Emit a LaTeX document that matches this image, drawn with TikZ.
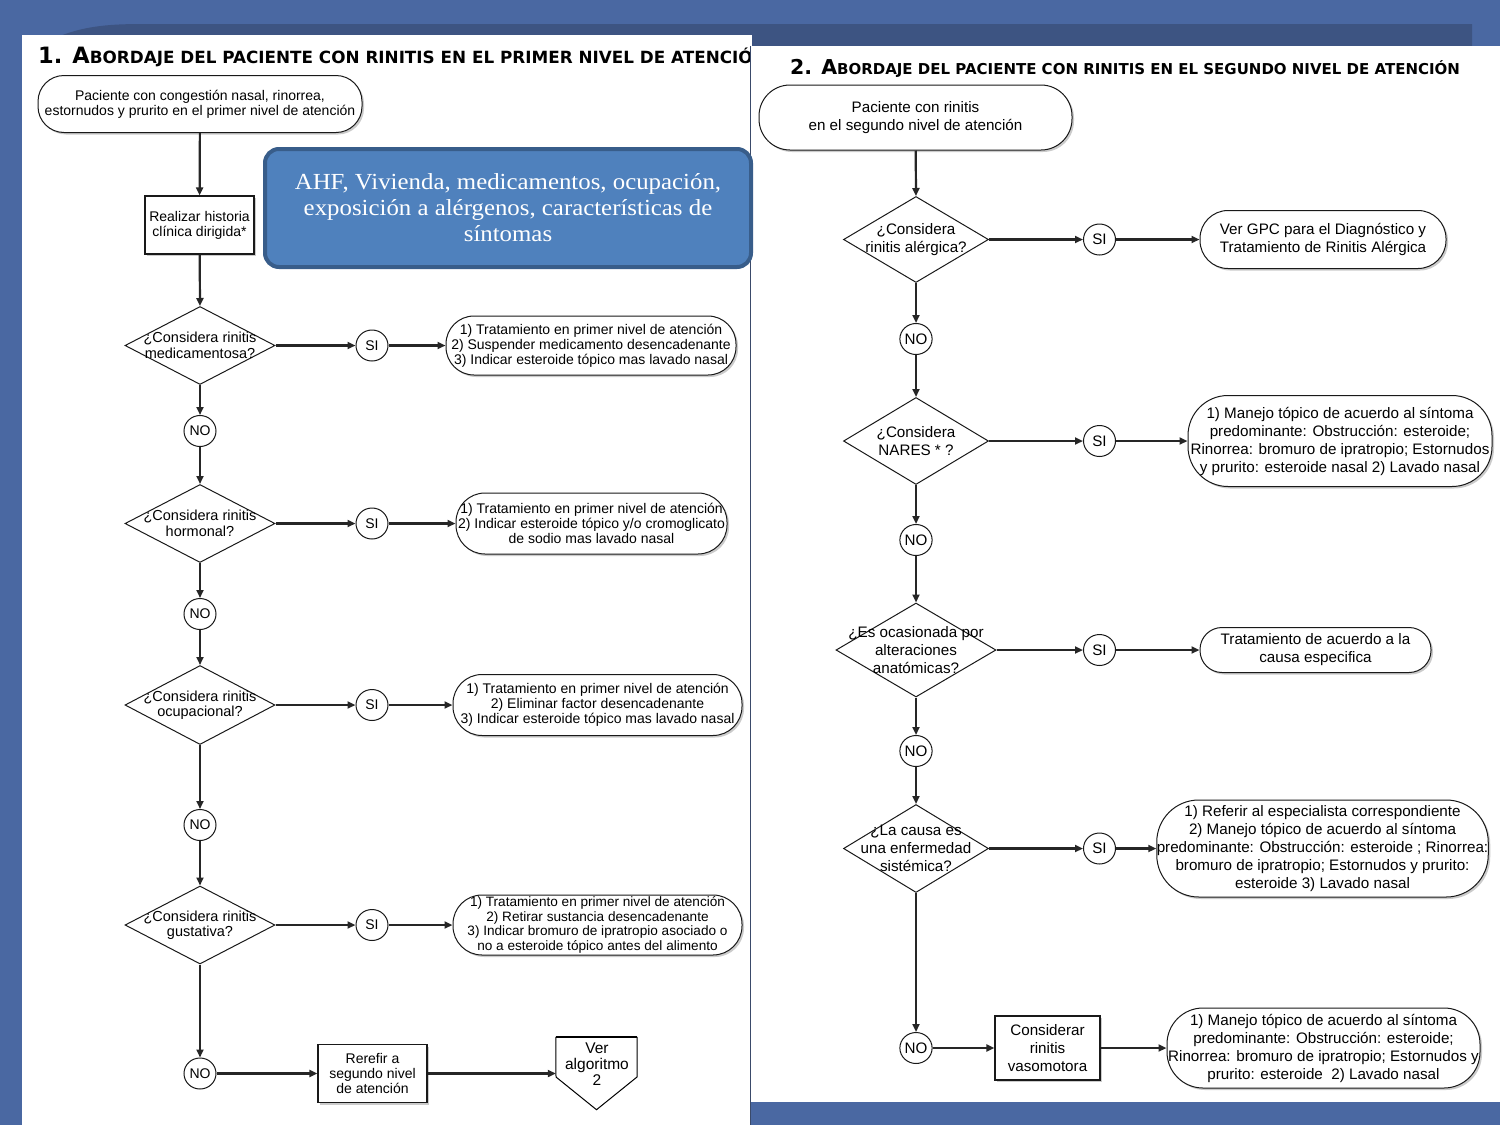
\documentclass[tikz,border=0pt]{standalone}
\usepackage{fontspec}
\setmainfont{Liberation Sans}
\newfontfamily\serf[FakeStretch=1.08]{Liberation Serif}
\newfontfamily\ttlfont{DejaVu Sans}
\usetikzlibrary{shapes.geometric,arrows.meta,shadows}
\definecolor{bgblue}{HTML}{4A68A2}
\definecolor{bandblue}{HTML}{3D5482}
\definecolor{callfill}{HTML}{4F81BD}
\definecolor{calldraw}{HTML}{385D8A}
\definecolor{edgeline}{HTML}{3A4A6A}
\tikzset{
  conn/.style={line width=2.2pt, draw=black!85, -{Triangle[length=8pt,width=7pt]}},
  shad/.style={drop shadow={shadow xshift=2pt,shadow yshift=-2pt,fill=black!45,opacity=0.45}},
  term/.style={draw=black!90, line width=1pt, fill=white, rectangle, rounded corners=#1, inner sep=0pt, align=center, shad},
  procbox/.style={draw=black!90, line width=1.1pt, fill=white, rectangle, inner sep=0pt, align=center, shad},
  dia/.style={draw=black!90, line width=1pt, fill=white, diamond, inner sep=0pt},
  yn/.style={draw=black!90, line width=1pt, fill=white, ellipse, inner sep=0pt, minimum width=32, minimum height=31},
  ltext/.style={font=\fontsize{14}{15}\selectfont},
  ldtext/.style={font=\fontsize{14.5}{15.5}\selectfont},
  rtext/.style={font=\fontsize{15.2}{18}\selectfont},
  dtext/.style={align=center, inner sep=0pt},
}
\newcommand\lttl[4]{{\fontsize{#1}{#1}\selectfont #3}{\fontsize{#2}{#2}\selectfont #4}}
\begin{document}
\begin{tikzpicture}[x=1pt,y=-1pt]
\useasboundingbox (0,0) rectangle (1500,1125);
% background
\fill[bgblue] (0,0) rectangle (1500,1125);
\fill[bandblue] (60,36) .. controls (90,24) and (120,24) .. (150,24) -- (1472,24) -- (1472,46) -- (60,46) -- cycle;
% left panel
\fill[white] (22,35) rectangle (752,1125);
\begin{scope}
\clip (22,35) rectangle (750,1125);
\node[anchor=base west, inner sep=0, font=\ttlfont\bfseries] (t1) at (38,63) {\lttl{22.5}{16.8}{1.\hspace{10pt}A}{BORDAJE DEL PACIENTE CON RINITIS EN EL PRIMER NIVEL DE ATENCIÓN}};
\end{scope}
% right panel
\fill[white] (750,46) rectangle (1500,1102);
\draw[edgeline, line width=1pt] (750.5,46) -- (750.5,1125);
\node[anchor=base west, inner sep=0, font=\ttlfont\bfseries] (t2) at (790,74) {\lttl{20.5}{15}{2.\hspace{9pt}A}{BORDAJE DEL PACIENTE CON RINITIS EN EL SEGUNDO NIVEL DE ATENCIÓN}};

% ---------------- left chart ----------------
\node[term=26, ltext, minimum width=324, minimum height=57] (s1) at (200,104) {Paciente con congestión nasal, rinorrea,\\estornudos y prurito en el primer nivel de atención};
\node[procbox, ltext, minimum width=109, minimum height=58] (h1) at (199.5,225) {Realizar historia\\clínica dirigida*};
\node[draw=calldraw, line width=4pt, fill=callfill, rounded corners=14, minimum width=486, minimum height=118, inner sep=0, align=center, text=white, font=\serf\fontsize{23}{26}\selectfont] (ahf) at (508,208) {AHF, Vivienda, medicamentos, ocupación,\\exposición a alérgenos, características de\\síntomas};

\node[dia, minimum width=150, minimum height=78, label={[dtext,ldtext]center:¿Considera rinitis\\medicamentosa?}] (d1) at (200,345.5) {};
\node[yn, ltext] (si1) at (372,345.5) {SI};
\node[term=28, ltext, minimum width=290, minimum height=59] (r1) at (591,345.5) {1) Tratamiento en primer nivel de atención\\2) Suspender medicamento desencadenante\\3) Indicar esteroide tópico mas lavado nasal};
\node[yn, ltext] (n1) at (200,431) {NO};

\node[dia, minimum width=150, minimum height=78, label={[dtext,ldtext]center:¿Considera rinitis\\hormonal?}] (d2) at (200,523.5) {};
\node[yn, ltext] (si2) at (372,523.5) {SI};
\node[term=29, ltext, minimum width=271, minimum height=61] (r2) at (591.5,523.5) {1) Tratamiento en primer nivel de atención\\2) Indicar esteroide tópico y/o cromoglicato\\de sodio mas lavado nasal};
\node[yn, ltext] (n2) at (200,614) {NO};

\node[dia, minimum width=150, minimum height=79, label={[dtext,ldtext]center:¿Considera rinitis\\ocupacional?}] (d3) at (200,705) {};
\node[yn, ltext] (si3) at (372,705) {SI};
\node[term=29, ltext, minimum width=289, minimum height=61] (r3) at (597.5,705) {1) Tratamiento en primer nivel de atención\\2) Eliminar factor desencadenante\\3) Indicar esteroide tópico mas lavado nasal};
\node[yn, ltext] (n3) at (200,825) {NO};

\node[dia, minimum width=150, minimum height=78, label={[dtext,ldtext]center:¿Considera rinitis\\gustativa?}] (d4) at (200,925) {};
\node[yn, ltext] (si4) at (372,925) {SI};
\node[term=29, font=\fontsize{13.6}{14.7}\selectfont, minimum width=289, minimum height=60] (r4) at (597.5,925) {1) Tratamiento en primer nivel de atención\\2) Retirar sustancia desencadenante\\3) Indicar bromuro de ipratropio asociado o\\no a esteroide tópico antes del alimento};
\node[yn, ltext] (n4) at (200,1073.5) {NO};

\node[procbox, ltext, minimum width=109, minimum height=58] (rf) at (372.5,1073.5) {Rerefir a\\segundo nivel\\de atención};
\node[minimum width=81, minimum height=72, inner sep=0] (va) at (596.5,1073.5) {};
\draw[line width=1pt, fill=white] (va.north west) -- (va.north east) -- (637,1077) -- (va.south) -- (556,1077) -- cycle;
\draw[line width=2pt] (va.north west) -- (va.north east);
\node[dtext, font=\fontsize{15.5}{16}\selectfont] (vat) at (597,1064) {Ver\\algoritmo\\2};

\draw[conn] (s1) -- (h1);
\draw[conn] (h1) -- (d1.north);
\draw[conn] (d1.east) -- (si1);
\draw[conn] (si1) -- (r1.west);
\draw[conn] (d1.south) -- (n1);
\draw[conn] (n1) -- (d2.north);
\draw[conn] (d2.east) -- (si2);
\draw[conn] (si2) -- (r2.west);
\draw[conn] (d2.south) -- (n2);
\draw[conn] (n2) -- (d3.north);
\draw[conn] (d3.east) -- (si3);
\draw[conn] (si3) -- (r3.west);
\draw[conn] (d3.south) -- (n3);
\draw[conn] (n3) -- (d4.north);
\draw[conn] (d4.east) -- (si4);
\draw[conn] (si4) -- (r4.west);
\draw[conn] (d4.south) -- (n4);
\draw[conn] (n4) -- (rf);
\draw[conn] (rf) -- (va.west);

% ---------------- right chart ----------------
\node[term=31, rtext, minimum width=313, minimum height=65] (s2) at (915.5,117.5) {Paciente con rinitis\\en el segundo nivel de atención};

\node[dia, minimum width=145, minimum height=86, label={[dtext,rtext]center:¿Considera\\rinitis alérgica?}] (D1) at (916,239.5) {};
\node[yn, rtext] (S1) at (1099.5,239.5) {SI};
\node[term=28, rtext, minimum width=246, minimum height=58] (R1) at (1323,239.5) {Ver GPC para el Diagnóstico y\\Tratamiento de Rinitis Alérgica};
\node[yn, rtext] (N1) at (916,339) {NO};

\node[dia, minimum width=145, minimum height=87, label={[dtext,rtext]center:¿Considera\\NARES * ?}] (D2) at (916,441) {};
\node[yn, rtext] (S2) at (1099.5,441) {SI};
\node[term=40, rtext, minimum width=304, minimum height=91] (R2) at (1340,441) {1) Manejo tópico de acuerdo al síntoma\\predominante: Obstrucción: esteroide;\\Rinorrea: bromuro de ipratropio; Estornudos\\y prurito: esteroide nasal 2) Lavado nasal};
\node[yn, rtext] (N2) at (916,540) {NO};

\node[dia, minimum width=160, minimum height=94, label={[dtext,rtext]center:¿Es ocasionada por\\alteraciones\\anatómicas?}] (D3) at (916,650) {};
\node[yn, rtext] (S3) at (1099.5,650) {SI};
\node[term=22, rtext, minimum width=231, minimum height=45] (R3) at (1315.5,650) {Tratamiento de acuerdo a la\\causa especifica};
\node[yn, rtext] (N3) at (916,751) {NO};

\node[dia, minimum width=145, minimum height=88, label={[dtext,rtext]center:¿La causa es\\una enfermedad\\sistémica?}] (D4) at (916,848.5) {};
\node[yn, rtext] (S4) at (1099.5,848.5) {SI};
\node[term=42, rtext, minimum width=329, minimum height=97] (R4) at (1322.5,848.5) {1) Referir al especialista correspondiente\\2) Manejo tópico de acuerdo al síntoma\\predominante: Obstrucción: esteroide ; Rinorrea:\\bromuro de ipratropio; Estornudos y prurito:\\esteroide 3) Lavado nasal};
\node[yn, rtext] (N4) at (916,1048) {NO};

\node[procbox, rtext, minimum width=105, minimum height=64] (CV) at (1047.5,1048) {Considerar\\rinitis\\vasomotora};
\node[term=36, rtext, minimum width=313, minimum height=80] (R5) at (1323.5,1048) {1) Manejo tópico de acuerdo al síntoma\\predominante: Obstrucción: esteroide;\\Rinorrea: bromuro de ipratropio; Estornudos y\\prurito: esteroide\ \ 2) Lavado nasal};

\draw[conn] (s2) -- (D1.north);
\draw[conn] (D1.east) -- (S1);
\draw[conn] (S1) -- (R1.west);
\draw[conn] (D1.south) -- (N1);
\draw[conn] (N1) -- (D2.north);
\draw[conn] (D2.east) -- (S2);
\draw[conn] (S2) -- (R2.west);
\draw[conn] (D2.south) -- (N2);
\draw[conn] (N2) -- (D3.north);
\draw[conn] (D3.east) -- (S3);
\draw[conn] (S3) -- (R3.west);
\draw[conn] (D3.south) -- (N3);
\draw[conn] (N3) -- (D4.north);
\draw[conn] (D4.east) -- (S4);
\draw[conn] (S4) -- (R4.west);
\draw[conn] (D4.south) -- (N4);
\draw[conn] (N4) -- (CV);
\draw[conn] (CV) -- (R5.west);
% bottom band over right panel
\fill[bgblue] (751,1102) rectangle (1500,1125);
\end{tikzpicture}
\end{document}
